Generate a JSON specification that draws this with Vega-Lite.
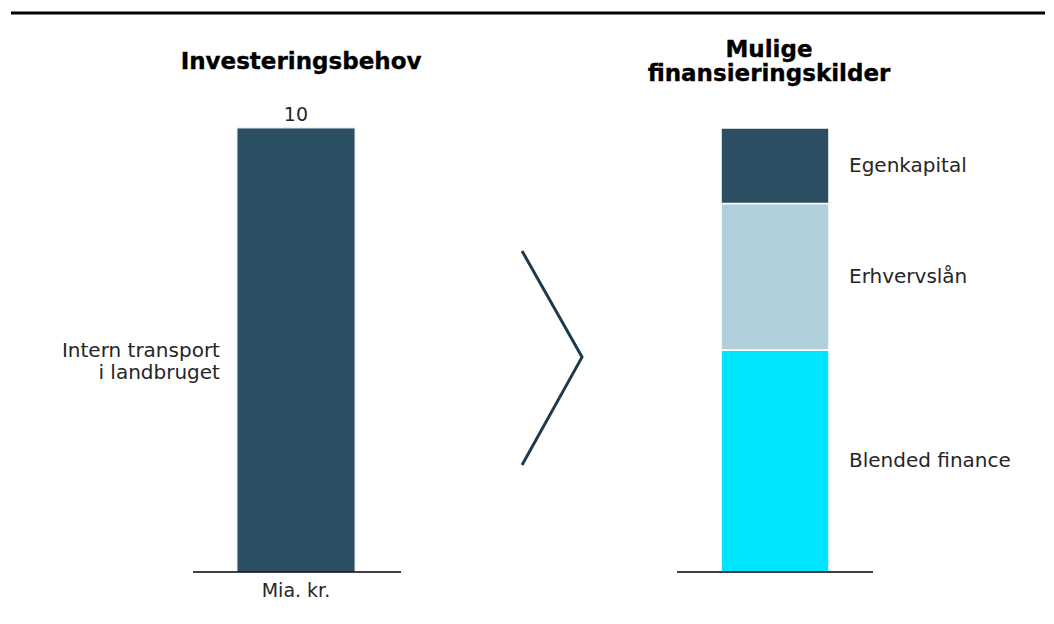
{
  "$schema": "https://vega.github.io/schema/vega-lite/v6.json",
  "autosize": {"type": "fit", "contains": "padding"},
  "width": 1054,
  "height": 624,
  "padding": 0,
  "background": "white",
  "config": {"view": {"stroke": null}},
  "datasets": {
    "behov": [{"kategori": "Intern transport\ni landbruget", "vaerdi": 10, "enhed": "Mia. kr."}],
    "kilder": [
      {"kilde": "Blended finance", "vaerdi": 5.0, "orden": 1},
      {"kilde": "Erhvervslån", "vaerdi": 3.3, "orden": 2},
      {"kilde": "Egenkapital", "vaerdi": 1.7, "orden": 3}
    ],
    "pil": [
      {"px": 49.53, "py": 7.23, "trin": 1},
      {"px": 55.22, "py": 4.84, "trin": 2},
      {"px": 49.53, "py": 2.41, "trin": 3}
    ]
  },
  "layer": [
    {
      "data": {"values": [{}]},
      "mark": {"type": "rule", "color": "#000000", "strokeWidth": 3},
      "encoding": {
        "x": {"datum": 1.04, "type": "quantitative", "scale": {"domain": [0, 100], "nice": false, "zero": false}, "axis": null},
        "x2": {"datum": 99.15},
        "y": {"datum": 12.59, "type": "quantitative", "scale": {"domain": [-1.171, 12.883], "nice": false, "zero": false}, "axis": null}
      }
    },
    {
      "data": {"values": [{"titel": "Investeringsbehov"}]},
      "mark": {"type": "text", "font": "DejaVu Sans", "fontWeight": "bold", "fontSize": 23, "color": "#000000", "stroke": "#000000", "strokeWidth": 0.35, "align": "center", "baseline": "middle"},
      "encoding": {
        "x": {"datum": 28.56, "type": "quantitative"},
        "y": {"datum": 11.49, "type": "quantitative"},
        "text": {"field": "titel"}
      }
    },
    {
      "data": {"values": [{"titel": "Mulige\nfinansieringskilder"}]},
      "mark": {"type": "text", "font": "DejaVu Sans", "fontWeight": "bold", "fontSize": 23, "color": "#000000", "stroke": "#000000", "strokeWidth": 0.35, "align": "center", "baseline": "middle", "lineBreak": "\n", "lineHeight": 24},
      "encoding": {
        "x": {"datum": 72.96, "type": "quantitative"},
        "y": {"datum": 11.76, "type": "quantitative"},
        "text": {"field": "titel"}
      }
    },
    {
      "data": {"name": "behov"},
      "mark": {"type": "bar", "color": "#2c4e62", "stroke": "#dbe6eb", "strokeWidth": 1},
      "encoding": {
        "x": {"datum": 22.49, "type": "quantitative"},
        "x2": {"datum": 33.68},
        "y": {"field": "vaerdi", "type": "quantitative"},
        "y2": {"datum": 0}
      }
    },
    {
      "data": {"name": "behov"},
      "mark": {"type": "text", "font": "DejaVu Sans", "fontSize": 19, "color": "#262626", "baseline": "bottom", "dy": -3},
      "encoding": {
        "x": {"datum": 28.08, "type": "quantitative"},
        "y": {"field": "vaerdi", "type": "quantitative"},
        "text": {"field": "vaerdi", "type": "quantitative"}
      }
    },
    {
      "data": {"name": "behov"},
      "mark": {"type": "text", "font": "DejaVu Sans", "fontSize": 20, "color": "#262626", "align": "right", "baseline": "middle", "lineBreak": "\n", "lineHeight": 22},
      "encoding": {
        "x": {"datum": 20.87, "type": "quantitative"},
        "y": {"datum": 4.98, "type": "quantitative"},
        "text": {"field": "kategori"}
      }
    },
    {
      "data": {"name": "behov"},
      "mark": {"type": "text", "font": "DejaVu Sans", "fontSize": 19, "color": "#262626", "align": "center", "baseline": "middle", "dy": 19},
      "encoding": {
        "x": {"datum": 28.08, "type": "quantitative"},
        "y": {"datum": 0, "type": "quantitative"},
        "text": {"field": "enhed"}
      }
    },
    {
      "data": {"name": "kilder"},
      "transform": [
        {"stack": "vaerdi", "groupby": [], "sort": [{"field": "orden", "order": "ascending"}], "as": ["y0", "y1"]}
      ],
      "mark": {"type": "bar", "stroke": "#ffffff", "strokeWidth": 1.5},
      "encoding": {
        "x": {"datum": 68.41, "type": "quantitative"},
        "x2": {"datum": 78.65},
        "y": {"field": "y0", "type": "quantitative"},
        "y2": {"field": "y1"},
        "color": {"field": "kilde", "type": "nominal", "legend": null,
          "scale": {"domain": ["Egenkapital", "Erhvervslån", "Blended finance"], "range": ["#2c4e62", "#b0d0dc", "#00e5ff"]}}
      }
    },
    {
      "data": {"name": "kilder"},
      "transform": [
        {"stack": "vaerdi", "groupby": [], "sort": [{"field": "orden", "order": "ascending"}], "as": ["y0", "y1"]},
        {"fold": ["y0", "y1"], "as": ["kant", "niveau"]},
        {"aggregate": [{"op": "mean", "field": "niveau", "as": "midt"}], "groupby": ["kilde"]}
      ],
      "mark": {"type": "text", "font": "DejaVu Sans", "fontSize": 20, "color": "#262626", "align": "left", "baseline": "middle"},
      "encoding": {
        "x": {"datum": 80.55, "type": "quantitative"},
        "y": {"field": "midt", "type": "quantitative"},
        "text": {"field": "kilde"}
      }
    },
    {
      "data": {"values": [{}]},
      "mark": {"type": "rule", "color": "#000000", "strokeWidth": 1.5},
      "encoding": {
        "x": {"datum": 18.31, "type": "quantitative"},
        "x2": {"datum": 38.05},
        "y": {"datum": 0, "type": "quantitative"}
      }
    },
    {
      "data": {"values": [{}]},
      "mark": {"type": "rule", "color": "#000000", "strokeWidth": 1.5},
      "encoding": {
        "x": {"datum": 64.23, "type": "quantitative"},
        "x2": {"datum": 82.83},
        "y": {"datum": 0, "type": "quantitative"}
      }
    },
    {
      "data": {"name": "pil"},
      "mark": {"type": "line", "color": "#1f3a4c", "strokeWidth": 3},
      "encoding": {
        "x": {"field": "px", "type": "quantitative"},
        "y": {"field": "py", "type": "quantitative"},
        "order": {"field": "trin"}
      }
    }
  ]
}
